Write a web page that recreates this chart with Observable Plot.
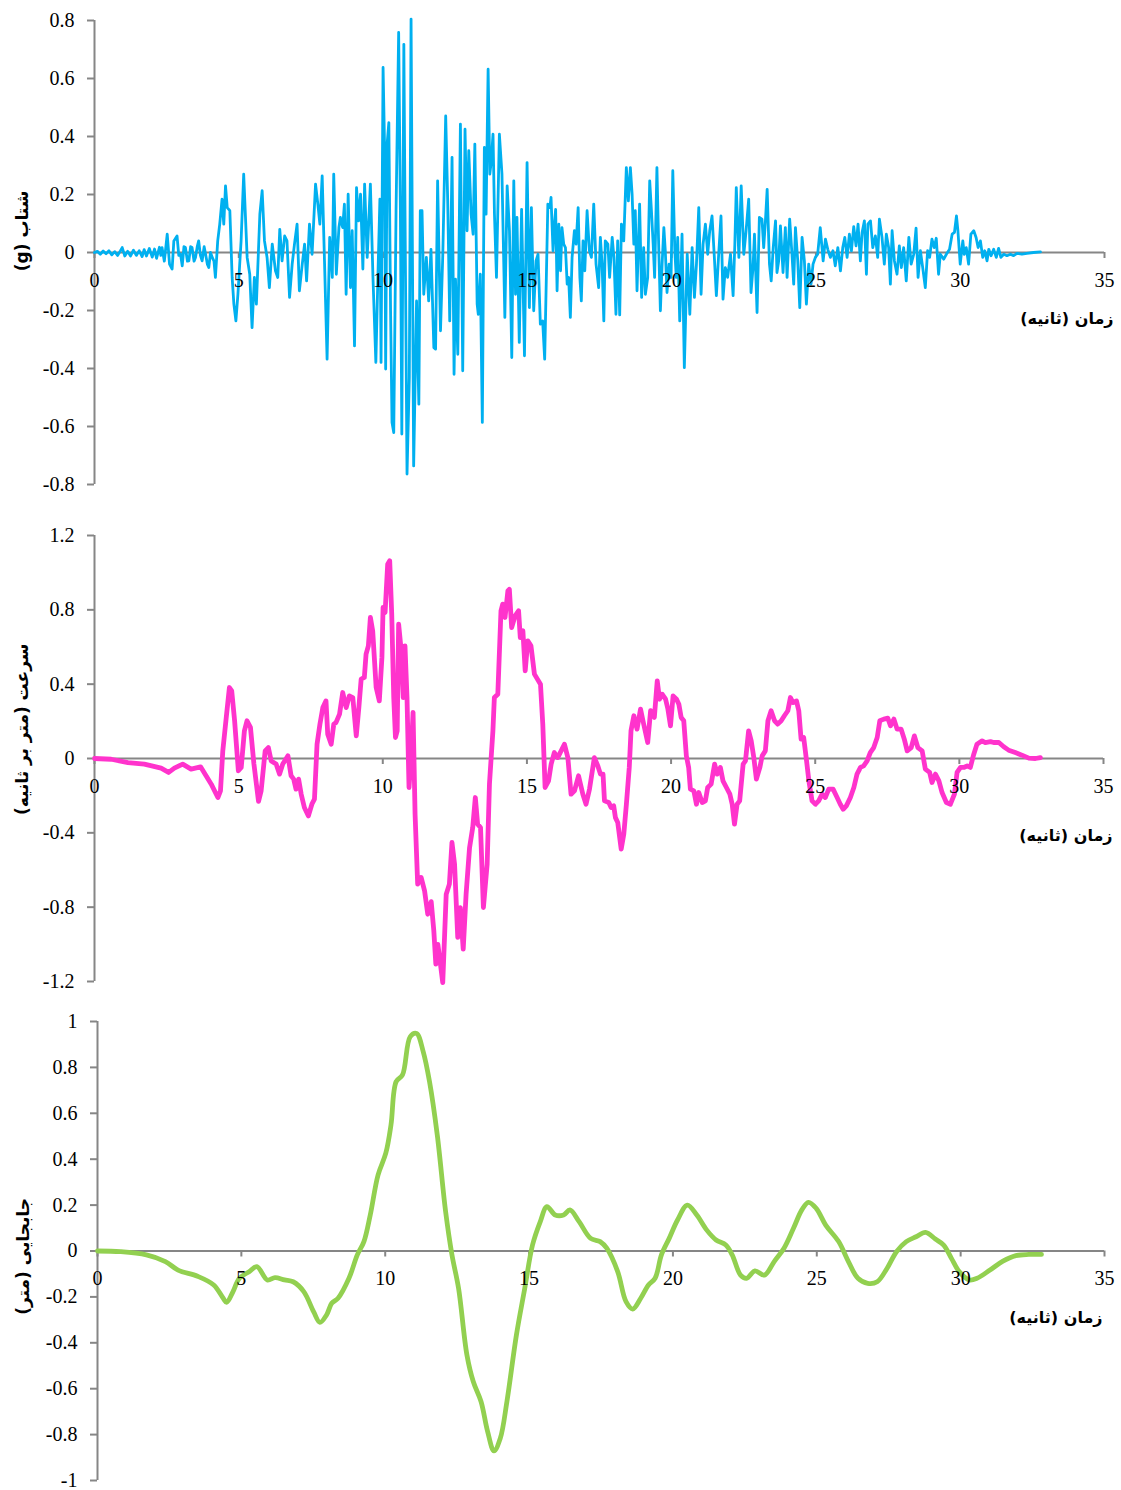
<!DOCTYPE html>
<html>
<head>
<meta charset="utf-8">
<script src="https://cdn.jsdelivr.net/npm/d3@7"></script>
<script src="https://cdn.jsdelivr.net/npm/@observablehq/plot@0.6"></script>
<style>
  html, body { margin: 0; padding: 0; background: #fff; }
  #wrap { position: relative; width: 1121px; height: 1490px; }
  #wrap > div { position: absolute; left: 0; }
  svg { overflow: visible; }
</style>
</head>
<body>
<div id="wrap">
  <div id="p1" style="top:0px"></div>
  <div id="p2" style="top:500px"></div>
  <div id="p3" style="top:990px"></div>
</div>
<script>
// ---------- tick labels ----------
const xTicks = [0, 5, 10, 15, 20, 25, 30, 35];
const accTicks = [-0.8, -0.6, -0.4, -0.2, 0, 0.2, 0.4, 0.6, 0.8];
const velTicks = [-1.2, -0.8, -0.4, 0, 0.4, 0.8, 1.2];
const dispTicks = [-1, -0.8, -0.6, -0.4, -0.2, 0, 0.2, 0.4, 0.6, 0.8, 1];

// ---------- titles ----------
const xTitle = "زمان (ثانیه)";
const accTitle = "شتاب (g)";
const velTitle = "سرعت (متر بر ثانیه)";
const dispTitle = "جابجایی (متر)";

// ---------- acceleration (g) : [time s, value] ----------
const acceleration = [
[0,0],[0.1,0.004],[0.2,-0.006],[0.3,0.005],[0.4,-0.004],[0.5,0.006],[0.6,-0.008],[0.7,0.003],[0.8,-0.01],[0.9,0.006],[0.96,0.017],[1.05,-0.012],[1.15,0.004],[1.25,-0.012],[1.35,0.008],[1.45,-0.01],[1.55,0.006],[1.65,-0.014],[1.72,0.01],[1.8,-0.012],[1.9,0.014],[2.0,-0.016],[2.08,0.012],[2.15,-0.02],[2.25,0.018],[2.3,-0.01],
[2.34,0.017],[2.42,-0.03],[2.52,0.063],[2.6,-0.04],[2.69,-0.057],[2.75,0.04],[2.86,0.057],[2.92,-0.01],[2.98,-0.005],[3.04,-0.046],[3.1,0.02],[3.15,0.017],[3.22,-0.03],[3.27,-0.029],[3.33,0.02],[3.38,0.017],[3.45,-0.03],[3.5,-0.017],[3.56,0.02],[3.61,0.04],[3.67,-0.01],[3.73,-0.029],[3.8,0.02],[3.85,-0.006],[3.91,-0.04],[3.96,-0.052],[4.02,0.0],[4.08,-0.017],[4.14,-0.03],[4.19,-0.086],
[4.27,0.04],[4.34,0.098],[4.42,0.184],[4.48,0.098],[4.54,0.23],[4.6,0.155],[4.69,0.144],[4.77,-0.086],[4.83,-0.178],[4.9,-0.236],[4.97,-0.144],[5.08,0.04],[5.17,0.27],[5.29,-0.017],[5.38,-0.075],[5.46,-0.259],[5.54,-0.086],[5.61,-0.178],[5.73,0.132],[5.81,0.213],[5.89,0.04],[5.98,-0.017],[6.06,-0.121],[6.16,0.029],[6.27,-0.063],[6.35,-0.086],[6.42,0.08],[6.5,-0.029],[6.59,0.057],[6.67,0.04],[6.76,-0.155],[6.85,-0.04],[6.93,0.029],[7.02,0.098],[7.1,-0.132],[7.2,-0.04],[7.28,0.029],[7.35,-0.098],[7.45,0.098],[7.54,-0.006],[7.66,0.236],[7.74,0.167],[7.81,0.098],[7.89,0.264],[7.97,-0.029],[8.06,-0.368],[8.15,0.052],[8.24,-0.086],[8.29,0.27],[8.38,-0.075],[8.47,0.086],[8.52,0.121],[8.6,0.086],[8.66,0.167],[8.72,-0.144],[8.79,0.201],[8.87,-0.121],[8.93,0.075],[9.01,-0.322],[9.08,0.224],[9.15,0.109],[9.22,0.201],[9.3,-0.057],[9.36,0.236],[9.45,-0.017],[9.56,0.236],[9.65,-0.086],[9.75,-0.379],[9.82,-0.086],[9.89,0.184],[9.93,-0.379],[10.0,0.638],[10.05,0.374],[10.09,-0.402],[10.14,0.374],[10.2,0.448],[10.26,-0.201],[10.31,-0.586],[10.37,-0.621],[10.45,0.144],[10.54,0.759],[10.6,0.144],[10.65,-0.626],[10.72,0.718],[10.76,0.144],[10.83,-0.764],[10.91,-0.431],[10.97,0.805],[11.06,-0.736],[11.16,-0.167],[11.24,-0.523],[11.29,0.144],[11.35,0.144],[11.41,-0.144],[11.5,-0.017],
[11.58,-0.167],[11.66,0.011],[11.76,-0.328],[11.82,-0.333],[11.89,0.247],[11.99,-0.27],[12.07,-0.006],[12.17,0.471],[12.24,0.178],[12.31,-0.236],[12.39,0.328],[12.46,-0.42],[12.51,-0.092],[12.59,-0.351],[12.68,0.443],[12.76,-0.408],[12.84,0.425],[12.91,0.075],[12.97,0.351],[13.05,0.132],[13.12,0.063],[13.18,0.374],[13.26,-0.178],[13.3,-0.213],[13.37,-0.075],[13.44,-0.586],[13.51,0.362],[13.57,0.132],[13.64,0.632],[13.7,0.27],[13.75,0.316],[13.81,0.408],[13.86,0.132],[13.93,-0.086],[14.03,0.408],[14.12,0.27],[14.22,-0.224],[14.3,0.23],[14.38,0.075],[14.46,-0.362],[14.53,0.247],[14.59,-0.144],[14.64,0.121],[14.72,-0.31],[14.8,0.149],[14.9,-0.356],[14.99,0.31],[15.07,-0.19],[15.14,0.155],[15.22,-0.201],[15.3,-0.029],[15.37,-0.006],[15.45,-0.247],[15.53,-0.236],[15.6,-0.368],[15.71,0.167],
[15.78,0.155],[15.82,0.19],[15.89,0.006],[15.94,0.098],[15.98,0.149],[16.03,-0.132],[16.09,0.098],[16.15,-0.063],[16.2,0.086],[16.26,0.029],[16.32,0.017],[16.38,-0.109],[16.43,-0.086],[16.49,-0.224],[16.55,-0.017],[16.63,0.075],[16.69,0.029],[16.76,0.155],[16.82,-0.086],[16.87,-0.167],[16.93,0.04],[16.99,-0.063],[17.07,0.144],[17.15,0.006],[17.22,-0.017],[17.3,0.167],[17.38,-0.04],[17.47,-0.121],[17.53,0.052],[17.59,-0.04],[17.65,-0.236],[17.7,0.04],[17.79,0.029],[17.85,-0.086],[17.94,0.052],[18.0,-0.017],[18.07,-0.213],[18.13,0.04],[18.2,-0.215],[18.26,0.098],[18.34,0.04],[18.43,0.293],[18.5,0.178],[18.57,0.293],[18.63,0.201],[18.69,0.029],[18.74,0.144],[18.8,-0.132],[18.89,0.167],[18.96,-0.155],[19.03,0.017],[19.09,-0.144],[19.17,-0.086],[19.24,0.247],[19.3,0.144],[19.36,0.029],[19.41,-0.086],[19.49,0.293],[19.55,0.029],[19.61,-0.201],[19.67,-0.04],[19.73,0.086],[19.78,0.006],[19.84,-0.138],[19.91,-0.04],[19.98,-0.086],[20.04,0.282],[20.11,0.006],[20.16,-0.086],[20.21,0.052],[20.28,-0.236],[20.36,0.063],
[20.44,-0.397],[20.54,-0.006],[20.63,-0.213],[20.71,0.017],[20.79,-0.155],[20.86,-0.04],[20.94,0.155],[21.02,-0.144],[21.09,0.029],[21.17,0.098],[21.25,-0.006],[21.32,0.075],[21.4,0.126],[21.48,-0.017],[21.55,-0.149],[21.63,-0.006],[21.71,0.126],[21.78,-0.161],[21.86,-0.052],[21.94,-0.086],[22.04,-0.006],[22.13,-0.149],[22.19,0.029],[22.24,0.224],[22.33,-0.017],[22.41,0.23],[22.5,-0.006],[22.58,0.075],[22.67,0.184],[22.75,-0.138],[22.82,-0.052],[22.87,0.063],[22.96,-0.207],[23.04,0.121],[23.13,0.115],[23.19,0.017],[23.25,0.109],[23.31,0.218],[23.39,-0.04],[23.45,-0.098],[23.52,0.017],[23.6,0.109],[23.65,-0.069],[23.71,-0.029],[23.77,0.092],[23.86,-0.069],[23.94,0.086],[24.0,-0.086],[24.09,0.115],[24.17,-0.006],[24.23,-0.109],[24.29,0.086],[24.37,-0.029],[24.44,-0.19],[24.52,0.052],[24.6,-0.029],[24.67,-0.178],[24.75,-0.04],[24.83,-0.109],[24.9,-0.04],[24.98,-0.017],[25.06,-0.006],[25.15,0.086],[25.25,-0.029],[25.33,0.046],[25.41,0.011],[25.5,-0.017],[25.59,0.006],[25.67,-0.046],[25.76,0.017],[25.85,-0.063],[25.93,0.017],[26.0,0.052],[26.08,-0.017],[26.16,0.063],[26.23,0.006],[26.31,0.089],[26.39,0.023],[26.46,0.098],[26.54,-0.029],[26.6,0.069],[26.68,0.109],[26.75,-0.075],[26.8,0.098],[26.89,0.109],[26.97,0.017],[27.06,0.057],[27.14,-0.017],[27.2,0.115],[27.29,0.052],[27.37,-0.04],[27.44,0.063],[27.52,0.017],[27.58,-0.109],[27.64,0.075],[27.72,-0.029],[27.81,-0.075],[27.89,0.023],[27.96,-0.052],[28.04,0.017],[28.13,-0.098],[28.22,0.052],[28.3,-0.04],[28.39,-0.006],[28.47,0.084],[28.54,-0.086],[28.62,0.006],[28.7,-0.052],[28.79,-0.121],[28.87,0.006],[28.94,-0.017],[29.02,0.046],[29.1,0.017],[29.17,0.049],[29.25,-0.075],[29.31,-0.006],[29.43,-0.023],[29.52,-0.006],[29.63,0.011],[29.72,0.063],[29.8,0.069],[29.87,0.126],[29.92,0.075],[30.0,-0.04],[30.09,0.04],[30.14,-0.006],[30.21,0.017],[30.29,-0.04],[30.37,0.063],[30.47,0.075],[30.55,0.052],[30.62,0.017],[30.7,0.04],[30.78,-0.017],[30.85,0.006],[30.93,-0.029],[30.99,0.011],[31.07,-0.011],[31.16,0.011],[31.25,-0.017],[31.33,0.014],[31.41,-0.017],[31.51,-0.006],[31.62,-0.011],[31.74,-0.006],[31.85,-0.011],[31.97,-0.003],[32.14,-0.006],[32.31,-0.003],[32.54,0],[32.78,0.002]
];

// ---------- velocity (m/s) : [time s, value] ----------
const velocity = [
[0,0],[0.58,-0.004],[1.16,-0.022],[1.73,-0.03],[2.31,-0.052],[2.57,-0.075],[2.77,-0.052],[3.06,-0.03],[3.35,-0.057],[3.68,-0.045],[3.87,-0.093],[4.05,-0.138],[4.28,-0.21],[4.37,-0.174],[4.45,0.041],[4.57,0.22],[4.68,0.382],[4.76,0.364],[4.86,0.203],[4.99,-0.066],[5.09,-0.048],[5.2,0.149],[5.29,0.203],[5.41,0.167],[5.53,-0.03],[5.69,-0.231],[5.78,-0.174],[5.92,0.041],[6.03,0.059],[6.13,-0.013],[6.3,-0.03],[6.42,-0.084],[6.53,-0.03],[6.71,0.014],[6.82,-0.093],[6.91,-0.111],[6.99,-0.165],[7.08,-0.111],[7.17,-0.192],[7.28,-0.264],[7.42,-0.309],[7.54,-0.246],[7.63,-0.219],[7.72,0.077],[7.82,0.185],[7.92,0.274],[8.03,0.31],[8.09,0.131],[8.21,0.077],[8.3,0.185],[8.38,0.194],[8.5,0.239],[8.61,0.355],[8.73,0.274],[8.84,0.337],[8.96,0.328],[9.08,0.122],[9.17,0.274],[9.25,0.427],[9.36,0.436],[9.42,0.562],[9.5,0.606],[9.57,0.759],[9.65,0.687],[9.77,0.382],[9.88,0.31],[9.97,0.544],[10.01,0.813],[10.08,0.786],[10.17,1.046],[10.24,1.064],[10.31,0.777],[10.38,0.328],[10.44,0.113],[10.5,0.149],[10.55,0.723],[10.64,0.579],[10.71,0.328],[10.77,0.606],[10.84,0.328],[10.91,-0.156],[10.98,0.005],[11.05,0.248],[11.12,-0.3],[11.21,-0.676],[11.33,-0.64],[11.45,-0.712],[11.56,-0.838],[11.68,-0.77],[11.77,-0.927],[11.84,-1.107],[11.91,-1.0],[12.0,-1.107],[12.08,-1.206],[12.2,-0.73],[12.31,-0.676],[12.4,-0.452],[12.49,-0.569],[12.6,-0.963],[12.69,-0.802],[12.79,-1.026],[12.89,-0.73],[13.01,-0.479],[13.12,-0.371],[13.21,-0.21],[13.29,-0.353],[13.39,-0.371],[13.49,-0.802],[13.62,-0.569],[13.7,-0.138],[13.82,0.149],[13.87,0.328],[13.99,0.346],[14.1,0.795],[14.16,0.831],[14.24,0.759],[14.34,0.902],[14.39,0.911],[14.47,0.705],[14.59,0.768],[14.71,0.795],[14.77,0.651],[14.86,0.687],[14.94,0.472],[15.03,0.633],[15.14,0.606],[15.26,0.454],[15.47,0.4],[15.55,0.185],[15.63,-0.156],[15.75,-0.12],[15.84,-0.03],[15.95,0.032],[16.07,0.005],[16.3,0.077],[16.42,0.005],[16.53,-0.192],[16.65,-0.174],[16.79,-0.093],[16.94,-0.192],[17.05,-0.246],[17.17,-0.165],[17.34,0.005],
[17.46,-0.04],[17.55,-0.084],[17.64,-0.084],[17.69,-0.228],[17.84,-0.237],[17.92,-0.264],[18.01,-0.255],[18.07,-0.318],[18.15,-0.344],[18.27,-0.488],[18.36,-0.407],[18.45,-0.246],[18.55,-0.048],[18.61,0.149],[18.71,0.23],[18.82,0.158],[18.94,0.266],[19.05,0.185],[19.19,0.086],[19.29,0.257],[19.42,0.221],[19.52,0.418],[19.6,0.319],[19.69,0.346],[19.81,0.319],[19.89,0.266],[19.98,0.176],[20.07,0.337],[20.19,0.319],[20.27,0.292],[20.35,0.221],[20.44,0.203],[20.53,0.014],[20.61,-0.048],[20.67,-0.165],[20.79,-0.174],[20.88,-0.246],[20.96,-0.183],[21.08,-0.237],[21.19,-0.228],[21.27,-0.156],[21.39,-0.138],[21.51,-0.03],[21.6,-0.084],[21.71,-0.048],[21.8,-0.12],[21.92,-0.156],[22.04,-0.192],[22.12,-0.246],[22.2,-0.353],[22.29,-0.246],[22.38,-0.228],[22.5,-0.03],[22.58,-0.013],[22.69,0.149],[22.78,0.095],[22.87,0.005],[22.96,-0.111],[23.08,-0.048],[23.16,0.014],[23.27,0.041],[23.36,0.203],[23.47,0.257],[23.59,0.203],[23.7,0.185],[23.82,0.203],[23.93,0.23],[24.05,0.257],[24.14,0.328],[24.23,0.301],[24.35,0.31],[24.43,0.257],[24.51,0.104],[24.6,0.113],[24.7,-0.013],[24.78,-0.12],[24.89,-0.228],[25.01,-0.246],[25.12,-0.228],[25.24,-0.192],[25.35,-0.21],[25.47,-0.165],[25.62,-0.165],[25.76,-0.21],[25.87,-0.246],[25.97,-0.273],[26.08,-0.255],[26.22,-0.21],[26.34,-0.156],[26.45,-0.084],[26.57,-0.048],[26.68,-0.04],[26.8,-0.013],[26.91,0.032],[27.03,0.059],[27.15,0.113],[27.24,0.203],[27.38,0.212],[27.52,0.217],[27.61,0.176],[27.73,0.212],[27.84,0.158],[27.98,0.158],[28.09,0.104],[28.19,0.041],[28.33,0.059],[28.44,0.122],[28.56,0.059],[28.71,0.041],[28.82,-0.057],[28.97,-0.075],[29.05,-0.129],[29.17,-0.084],[29.29,-0.12],[29.4,-0.183],[29.55,-0.237],[29.69,-0.246],[29.83,-0.192],[29.92,-0.075],[30.04,-0.048],[30.15,-0.048],[30.27,-0.04],[30.38,-0.048],[30.5,0.023],[30.61,0.077],[30.79,0.095],[30.9,0.086],[31.08,0.091],[31.19,0.086],[31.37,0.086],[31.54,0.063],[31.71,0.045],[31.94,0.032],[32.17,0.018],[32.41,0.002],[32.64,0],[32.81,0.005]
];

// ---------- displacement (m) : [time s, value] ----------
const displacement = [
[0,0],[0.8,-0.003],[1.7,-0.017],[2.36,-0.046],[2.8,-0.083],[3.48,-0.11],[4.04,-0.148],[4.37,-0.206],[4.49,-0.224],[4.71,-0.177],[4.93,-0.119],[5.27,-0.09],[5.54,-0.068],[5.9,-0.126],[6.17,-0.116],[6.5,-0.126],[6.8,-0.134],[7.17,-0.177],[7.51,-0.264],[7.73,-0.311],[7.96,-0.279],[8.14,-0.228],[8.36,-0.206],[8.74,-0.119],[9.03,-0.017],[9.26,0.041],[9.48,0.157],[9.75,0.331],[10.02,0.426],[10.2,0.549],[10.38,0.738],[10.6,0.767],[10.87,0.934],[11.09,0.948],[11.32,0.869],[11.54,0.738],[11.81,0.505],[12.1,0.171],[12.32,-0.017],[12.55,-0.163],[12.84,-0.453],[13.06,-0.569],[13.33,-0.656],[13.56,-0.787],[13.78,-0.871],[14.0,-0.816],[14.23,-0.656],[14.56,-0.366],[14.85,-0.163],[15.12,0.026],[15.39,0.128],[15.62,0.193],[15.91,0.157],[16.2,0.157],[16.42,0.179],[16.74,0.128],[17.14,0.055],[17.47,0.041],[17.7,0.012],[18.08,-0.09],[18.37,-0.221],[18.6,-0.253],[18.88,-0.206],[19.15,-0.148],[19.38,-0.119],[19.6,-0.017],[19.87,0.055],[20.16,0.135],[20.5,0.2],[20.83,0.157],[21.17,0.092],[21.5,0.048],[21.84,0.026],[22.06,-0.017],[22.35,-0.105],[22.56,-0.119],[22.85,-0.087],[23.18,-0.105],[23.52,-0.046],[23.86,0.012],[24.19,0.099],[24.48,0.179],[24.71,0.212],[24.98,0.186],[25.31,0.113],[25.76,0.041],[26.1,-0.046],[26.43,-0.119],[26.77,-0.141],[27.1,-0.134],[27.44,-0.076],[27.77,-0.003],[28.11,0.041],[28.45,0.062],[28.78,0.081],[29.12,0.052],[29.41,0.026],[29.68,-0.032],[29.95,-0.09],[30.3,-0.126],[30.57,-0.119],[31.02,-0.083],[31.47,-0.044],[31.92,-0.02],[32.37,-0.015],[32.81,-0.015]
];

// ---------- styling ----------
const axisGray = "#868686";
const serif = "Liberation Serif, Times New Roman, serif";
const persian = "DejaVu Sans, sans-serif";
const rtl = s => "\u202B" + s + "\u202C";

function panel({data, color, width, yDomain, yTicks, curve, height, mTop, mBottom, mLeft, mRight, xTitleDx, xTitleDy, yTitle, yTitleDx, yTitleDy}) {
  return Plot.plot({
    width: 1121,
    height,
    marginTop: mTop,
    marginBottom: mBottom,
    marginLeft: mLeft,
    marginRight: mRight,
    style: {fontFamily: serif, fontSize: "20px", color: "#000", background: "transparent", overflow: "visible"},
    x: {domain: [0, 35], axis: null},
    y: {domain: yDomain, label: null},
    marks: [
      Plot.ruleY([0], {stroke: axisGray, strokeWidth: 2}),
      Plot.ruleX(xTicks, {x: d => d, y1: 0, y2: 0, insetBottom: -6, stroke: axisGray, strokeWidth: 2}),
      Plot.ruleX([0], {stroke: axisGray, strokeWidth: 2}),
      Plot.axisY(yTicks, {tickSize: 7, tickPadding: 13, tickFormat: d => String(d), stroke: axisGray, strokeWidth: 2, fill: "#000", fontSize: 20, fontFamily: serif, label: null}),
      Plot.line(data, {x: d => d[0], y: d => d[1], stroke: color, strokeWidth: width, strokeLinejoin: "round", strokeLinecap: "round", curve}),
      Plot.text(xTicks, {x: d => d, y: 0, dy: 28, text: d => String(d), fontSize: 20, fontFamily: serif, fill: "#000"}),
      Plot.text([rtl(xTitle)], {x: 35, y: 0, dx: xTitleDx, dy: xTitleDy, textAnchor: "end", fontWeight: "bold", fontFamily: persian, fontSize: 16, fill: "#000"}),
      Plot.text([rtl(yTitle)], {frameAnchor: "left", dx: yTitleDx, dy: yTitleDy, rotate: -90, textAnchor: "end", fontWeight: "bold", fontFamily: persian, fontSize: 17, fill: "#000"})
    ]
  });
}

document.getElementById("p1").append(panel({
  data: acceleration, color: "#00B0F0", width: 2.8, yDomain: [-0.8, 0.8], yTicks: accTicks, curve: "linear",
  height: 500, mTop: 20, mBottom: 16, mLeft: 94, mRight: 17,
  xTitleDx: 9, xTitleDy: 66, yTitle: accTitle, yTitleDx: -72, yTitleDy: -62
}));

document.getElementById("p2").append(panel({
  data: velocity, color: "#FF33CC", width: 4.8, yDomain: [-1.2, 1.2], yTicks: velTicks, curve: "linear",
  height: 490, mTop: 35, mBottom: 9, mLeft: 94, mRight: 18,
  xTitleDx: 9, xTitleDy: 77, yTitle: velTitle, yTitleDx: -72, yTitleDy: -115
}));

document.getElementById("p3").append(panel({
  data: displacement, color: "#92D050", width: 4.8, yDomain: [-1, 1], yTicks: dispTicks, curve: "catmull-rom",
  height: 500, mTop: 31, mBottom: 10, mLeft: 97, mRight: 17,
  xTitleDx: -2, xTitleDy: 67, yTitle: dispTitle, yTitleDx: -74, yTitleDy: -53
}));
</script>
</body>
</html>
